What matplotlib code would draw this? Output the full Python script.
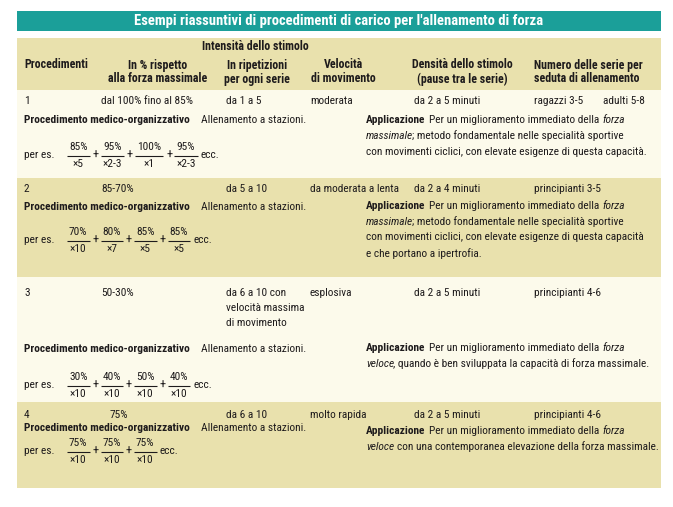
import matplotlib
matplotlib.use('Agg')
import matplotlib.pyplot as plt
from matplotlib.patches import Rectangle

# table content
title = "Esempi riassuntivi di procedimenti di carico per l'allenamento di forza"
group_header = 'Intensità dello stimolo'
col_headers = [['Procedimenti'],
               ['In % rispetto', 'alla forza massimale'],
               ['In ripetizioni', 'per ogni serie'],
               ['Velocità', 'di movimento'],
               ['Densità dello stimolo', '(pause tra le serie)'],
               ['Numero delle serie per', 'seduta di allenamento']]
procs = ['1', '2', '3', '4']
percents = ['dal 100% fino al 85%', '85-70%', '50-30%', '75%']
reps = [['da 1 a 5'], ['da 5 a 10'],
        ['da 6 a 10 con', 'velocità massima', 'di movimento'], ['da 6 a 10']]
speeds = ['moderata', 'da moderata a lenta', 'esplosiva', 'molto rapida']
densities = ['da 2 a 5 minuti', 'da 2 a 4 minuti', 'da 2 a 5 minuti', 'da 2 a 5 minuti']
series = [['ragazzi 3-5', 'adulti 5-8'], ['principianti 3-5'],
          ['principianti 4-6'], ['principianti 4-6']]
fractions = [[('85%', '×5'), ('95%', '×2-3'), ('100%', '×1'), ('95%', '×2-3')],
             [('70%', '×10'), ('80%', '×7'), ('85%', '×5'), ('85%', '×5')],
             [('30%', '×10'), ('40%', '×10'), ('50%', '×10'), ('40%', '×10')],
             [('75%', '×10'), ('75%', '×10'), ('75%', '×10')]]
appl_first = [('Applicazione', 'b'), (' Per un miglioramento immediato della ', 'n'), ('forza', 'i')]
applications = [
    [appl_first,
     [('massimale', 'i'), ('; metodo fondamentale nelle specialità sportive', 'n')],
     [('con movimenti ciclici, con elevate esigenze di questa capacità.', 'n')]],
    [appl_first,
     [('massimale', 'i'), ('; metodo fondamentale nelle specialità sportive', 'n')],
     [('con movimenti ciclici, con elevate esigenze di questa capacità', 'n')],
     [('e che portano a ipertrofia.', 'n')]],
    [appl_first,
     [('veloce', 'i'), (', quando è ben sviluppata la capacità di forza massimale.', 'n')]],
    [appl_first,
     [('veloce', 'i'), (' con una contemporanea elevazione della forza massimale.', 'n')]],
]

# layout (pixels)
W, H = 673, 507
X0, X1 = 17, 661
row_bands = [(90, 178), (178, 277), (277, 402), (402, 488)]
row_main_y = [101, 189, 293, 415]
row_proc_y = [120, 207, 349, 428]
row_appl_y = [120, 206, 348, 431]
row_frac_y = [156, 241, 386, 452]
appl_step = [16, 15.7, 16, 16]

TEAL = '#1b9f99'
TAN = '#e9e1ad'
CREAM = '#fcfaeb'
INK = '#1e1b1c'
FAM = ['Roboto Condensed', 'DejaVu Sans']
FS = 8.2
FS_HDR = 8.6

fig = plt.figure(figsize=(W / 100, H / 100), dpi=100)
fig.patch.set_facecolor('white')
ax = fig.add_axes([0, 0, 1, 1])
ax.set_xlim(0, W)
ax.set_ylim(H, 0)
ax.axis('off')
renderer = fig.canvas.get_renderer()

ax.add_patch(Rectangle((X0, 11), X1 - X0, 20, color=TEAL, lw=0))
ax.add_patch(Rectangle((X0, 38), X1 - X0, 52, color=TAN, lw=0))
for i, (a, b) in enumerate(row_bands):
    ax.add_patch(Rectangle((X0, a), X1 - X0, b - a, color=CREAM if i % 2 == 0 else TAN, lw=0))

ax.text(339, 21.5, title, color='white', fontsize=10.5, fontweight='bold',
        family=FAM, ha='center', va='center')


def txt(x, y, s, kind='n', ha='left', size=FS):
    return ax.text(x, y, s, color=INK, fontsize=size, family=FAM, ha=ha, va='center',
                   fontweight='bold' if kind == 'b' else 'normal',
                   fontstyle='italic' if kind == 'i' else 'normal')


def width(s, kind='n', size=FS):
    t = txt(0, 0, s, kind, size=size)
    w = t.get_window_extent(renderer).width
    t.remove()
    return w


space_w = width('x x') - width('xx')


def draw_runs(x, y, runs):
    for s, kind in runs:
        lead = len(s) - len(s.lstrip(' '))
        trail = len(s) - len(s.rstrip(' '))
        x += lead * (space_w + 1)
        core = s.strip(' ')
        txt(x, y, core, kind)
        x += width(core, kind) + trail * (space_w + 1)
        if kind == 'i':
            x -= 1


# header
txt(255, 47, group_header, 'b', ha='center', size=FS_HDR)
hdr_x = [24, 158, 257, 343, 462, 534]
hdr_ha = ['left', 'center', 'center', 'center', 'center', 'left']
for lines, x, ha in zip(col_headers, hdr_x, hdr_ha):
    for k, line in enumerate(lines):
        txt(x, 65 + 14 * k, line, 'b', ha=ha, size=FS_HDR)

# rows
for i in range(len(procs)):
    y = row_main_y[i]
    txt(24, y, procs[i])
    txt(110 if i == 3 else 101, y, percents[i])
    for k, line in enumerate(reps[i]):
        txt(226, y + 15 * k, line)
    txt(310, y, speeds[i])
    txt(414, y, densities[i])
    txt(534, y, series[i][0])
    if len(series[i]) > 1:
        txt(603, y, series[i][1])

    yp = row_proc_y[i]
    txt(24, yp, 'Procedimento medico-organizzativo', 'b')
    txt(201, yp, 'Allenamento a stazioni.')

    for k, runs in enumerate(applications[i]):
        draw_runs(366, row_appl_y[i] + appl_step[i] * k, runs)

    yf = row_frac_y[i]
    txt(24, yf - 1, 'per es.')
    x = 67
    for j, (num, den) in enumerate(fractions[i]):
        bw = max(width(num), width(den)) + 4
        cx = x + bw / 2
        txt(cx, yf - 9, num, ha='center')
        txt(cx, yf + 8, den, ha='center')
        ax.plot([x, x + bw], [yf, yf], color=INK, lw=0.8, solid_capstyle='butt')
        x += bw
        if j < len(fractions[i]) - 1:
            txt(x + 6, yf - 0.5, '+', ha='center', size=9)
            x += 11
    txt(x + 3, yf - 1, 'ecc.')

fig.savefig('out.png', dpi=100, facecolor='white')
